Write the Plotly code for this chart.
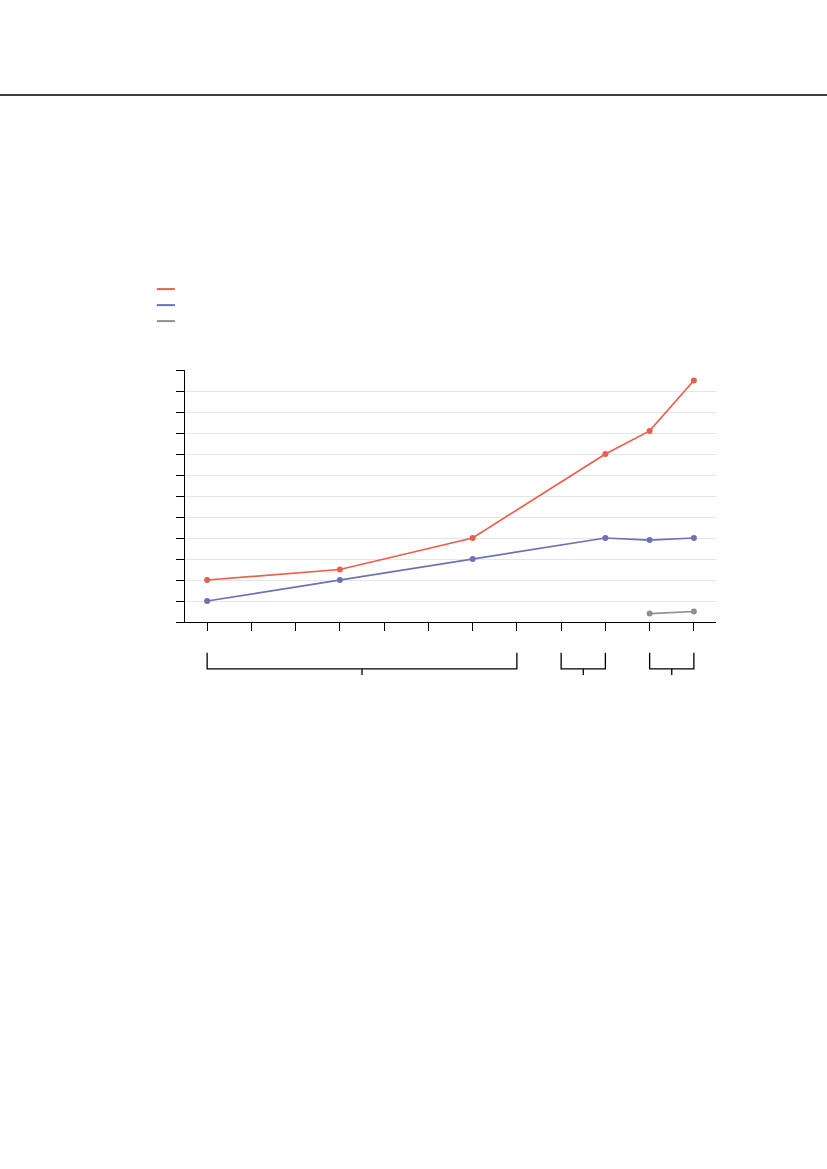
import plotly.graph_objects as go

# x positions are category slots 0..11; only some slots carry data
slots = list(range(12))
red_x = [0, 3, 6, 9, 10, 11]
red_y = [2.0, 2.5, 4.0, 8.0, 9.1, 11.5]
blue_x = [0, 3, 6, 9, 10, 11]
blue_y = [1.0, 2.0, 3.0, 4.0, 3.9, 4.0]
gray_x = [10, 11]
gray_y = [0.4, 0.5]
y_ticks = list(range(13))
groups = [(0, 7), (8, 9), (10, 11)]  # bracket spans under the x axis

colors = ["#e8604c", "#6c71b5", "#8f8f8f"]
series = [(red_x, red_y), (blue_x, blue_y), (gray_x, gray_y)]

fig = go.Figure()
for (xs, ys), c in zip(series, colors):
    fig.add_trace(go.Scatter(x=xs, y=ys, mode="lines+markers",
                             line=dict(color=c, width=1.7),
                             marker=dict(color=c, size=6), showlegend=False))

# brackets grouping the x slots
for a, b in groups:
    fig.add_shape(type="path", xref="x", yref="paper",
                  path=f"M {a},-0.122 L {a},-0.186 L {b},-0.186 L {b},-0.122",
                  line=dict(color="black", width=1.3))
    mid = (a + b) / 2
    fig.add_shape(type="line", xref="x", yref="paper", x0=mid, x1=mid,
                  y0=-0.186, y1=-0.21, line=dict(color="black", width=1.3))

# legend swatches (no labels in the original)
for i, c in enumerate(colors):
    fig.add_shape(type="line", xref="paper", yref="paper",
                  x0=-0.053, x1=-0.019, y0=1.321 - i * 0.0635, y1=1.321 - i * 0.0635,
                  line=dict(color=c, width=2))

# rule across the top of the page
fig.add_shape(type="line", xref="paper", yref="paper", x0=-0.4, x1=1.3,
              y0=2.091, y1=2.091, line=dict(color="black", width=1.6))

fig.update_xaxes(range=[-0.5, 11.5], tickvals=slots, showticklabels=False,
                 ticks="outside", ticklen=8, tickcolor="black",
                 showline=True, linecolor="black", linewidth=1.3,
                 showgrid=False, zeroline=False)
fig.update_yaxes(range=[0, 12], tickvals=y_ticks, showticklabels=False,
                 ticks="outside", ticklen=8, tickcolor="black",
                 showline=True, linecolor="black", linewidth=1.3,
                 showgrid=True, gridcolor="#e6e6e6", zeroline=False)

fig.update_layout(width=827, height=1169, plot_bgcolor="white", paper_bgcolor="white",
                  margin=dict(l=185, r=111, t=370, b=547), showlegend=False)

fig.write_html("out.html", config={"displayModeBar": False},
               post_script="document.body.style.margin='0';")
